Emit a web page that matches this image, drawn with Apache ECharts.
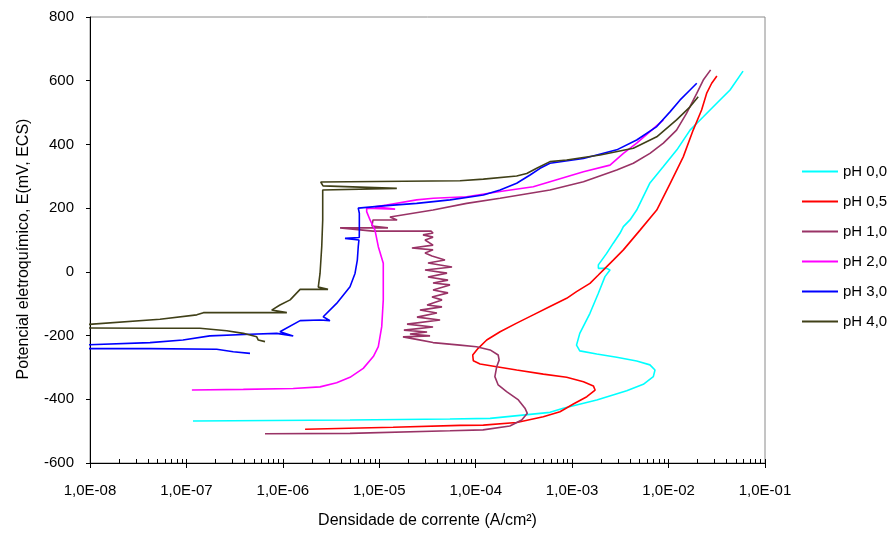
<!DOCTYPE html>
<html><head><meta charset="utf-8">
<script src="https://cdn.jsdelivr.net/npm/echarts@6/dist/echarts.min.js"></script>
<style>html,body{margin:0;padding:0;background:#fff}#c{width:895px;height:535px}</style>
</head><body><div id="c"></div>
<script>
const seriesNames = ['pH 0,0', 'pH 0,5', 'pH 1,0', 'pH 2,0', 'pH 3,0', 'pH 4,0'];
const seriesColors = ['#00FFFF', '#FF0000', '#993366', '#FF00FF', '#0000FF', '#404018'];

// pH 0,0 : current density (A/cm2) and potential (mV ECS)
const ph00_i = [1.17e-7, 4.97e-6, 5.4e-5, 1.41e-4, 5.89e-4, 8.09e-4, 1.80e-3, 3.68e-3, 5.47e-3, 6.95e-3, 7.23e-3, 6.41e-3, 4.67e-3, 2.90e-3, 1.80e-3, 1.20e-3, 1.11e-3, 1.20e-3, 1.53e-3, 1.87e-3, 2.19e-3, 2.47e-3, 2.28e-3, 1.87e-3, 1.87e-3, 2.28e-3, 2.67e-3, 3.13e-3, 3.40e-3, 3.98e-3, 4.67e-3, 6.41e-3, 8.75e-3, 1.22e-2, 1.67e-2, 2.28e-2, 3.18e-2, 4.34e-2, 5.92e-2];
const ph00_E = [-468, -465, -462, -460, -441, -428, -402, -373, -353, -329, -308, -292, -280, -268, -258, -248, -230, -193, -130, -67, -15, 6, 11, 11, 22, 58, 90, 121, 142, 163, 194, 279, 329, 383, 445, 486, 530, 571, 630];

// pH 0,5
const ph05_i = [1.70e-6, 1.39e-5, 6.87e-5, 1.20e-4, 2.66e-4, 5.02e-4, 7.48e-4, 1.03e-3, 1.42e-3, 1.73e-3, 1.66e-3, 1.31e-3, 8.77e-4, 5.02e-4, 2.66e-4, 1.65e-4, 1.11e-4, 9.44e-5, 9.31e-5, 1.06e-4, 1.30e-4, 1.79e-4, 2.66e-4, 3.95e-4, 5.89e-4, 8.77e-4, 1.11e-3, 1.53e-3, 1.87e-3, 2.19e-3, 2.67e-3, 3.40e-3, 5.06e-3, 7.54e-3, 1.04e-2, 1.42e-2, 1.80e-2, 2.20e-2, 2.48e-2, 2.80e-2, 3.17e-2];
const ph05_E = [-494, -488, -482, -481, -473, -455, -439, -415, -392, -371, -358, -345, -331, -321, -308, -298, -289, -279, -261, -240, -214, -188, -161, -135, -109, -83, -62, -36, -10, 11, 37, 69, 131, 194, 278, 361, 445, 508, 560, 592, 615];

// pH 1,0
const ph10_i = [6.53e-7, 4.97e-6, 5.41e-5, 1.19e-4, 2.26e-4, 3.00e-4, 3.43e-4, 3.24e-4, 2.77e-4, 2.09e-4, 1.71e-4, 1.58e-4, 1.65e-4, 1.75e-4, 1.71e-4, 1.41e-4, 1.02e-4, 6.87e-5, 3.61e-5, 2.44e-5,
  1.76e-5, 3.36e-5, 2.08e-5, 3.13e-5, 1.80e-5, 3.61e-5, 1.94e-5, 4.27e-5, 2.46e-5, 3.96e-5, 2.64e-5, 4.47e-5, 3.13e-5, 4.47e-5, 3.52e-5, 5.16e-5, 3.61e-5, 5.41e-5, 3.61e-5, 5.16e-5, 3.20e-5, 5.04e-5, 2.98e-5, 5.68e-5, 3.20e-5, 4.80e-5, 3.52e-5, 2.98e-5, 3.61e-5, 2.18e-5, 3.61e-5, 2.98e-5, 3.61e-5, 2.84e-5, 3.61e-5, 3.44e-5,
  8.61e-6, 3.92e-6, 1.23e-5, 8.39e-6, 8.61e-6, 1.53e-5, 1.29e-5, 3.61e-5, 8.05e-5, 1.79e-4, 5.89e-4, 1.31e-3, 2.90e-3, 4.31e-3, 6.41e-3, 8.83e-3, 1.21e-2, 1.54e-2, 1.96e-2, 2.29e-2, 2.73e-2];
const ph10_E = [-508, -507, -499, -496, -484, -465, -444, -428, -402, -376, -355, -329, -298, -277, -261, -245, -235, -230, -222, -212,
  -204, -201, -195, -189, -183, -173, -164, -151, -142, -129, -120, -110, -104, -88, -79, -66, -57, -41, -35, -26, -16, -4, 6, 15, 28, 37, 50, 59, 69, 75, 84, 100, 109, 116, 122, 128,
  128, 138, 138, 144, 163, 163, 172, 194, 215, 231, 257, 283, 320, 341, 372, 404, 445, 498, 560, 602, 634];

// pH 2,0
const ph20_i = [1.14e-7, 3.89e-7, 1.28e-6, 2.43e-6, 3.61e-6, 4.97e-6, 6.82e-6, 8.67e-6, 9.77e-6, 1.06e-5, 1.10e-5, 1.10e-5, 9.77e-6, 9.02e-6, 8.02e-6, 7.40e-6, 7.40e-6, 1.46e-5, 9.02e-6, 1.19e-5, 2.44e-5, 3.63e-5, 8.05e-5, 1.79e-4, 3.95e-4, 5.89e-4, 1.31e-3, 2.47e-3, 3.40e-3, 4.67e-3, 6.41e-3, 8.83e-3];
const ph20_E = [-371, -369, -366, -361, -348, -331, -303, -266, -235, -172, -88, 27, 79, 131, 163, 189, 200, 197, 204, 210, 226, 231, 236, 252, 267, 283, 314, 335, 372, 404, 440, 477];

// pH 3,0
const ph30_i = [4.56e-7, 3.06e-7, 2.06e-7, 4.19e-8, 7.9e-9, 7.9e-9, 4.19e-8, 9.20e-8, 1.75e-7, 4.56e-7, 8.63e-7, 1.28e-6, 9.33e-7, 1.51e-6, 2.43e-6, 3.08e-6, 2.62e-6, 3.61e-6, 4.97e-6, 5.60e-6, 5.92e-6, 6.05e-6, 6.15e-6, 4.41e-6, 6.20e-6, 6.21e-6, 6.21e-6, 6.05e-6, 6.31e-6, 1.10e-5, 2.44e-5, 5.41e-5, 1.20e-4, 1.79e-4, 2.66e-4, 3.66e-4, 4.65e-4, 5.89e-4, 1.31e-3, 2.90e-3, 4.67e-3, 7.54e-3, 1.04e-2, 1.31e-2, 1.67e-2, 1.96e-2];
const ph30_E = [-256, -251, -243, -241, -241, -230, -222, -214, -201, -196, -193, -201, -188, -153, -151, -153, -141, -99, -47, -5, 37, 79, 100, 105, 108, 131, 184, 200, 205, 207, 215, 226, 241, 257, 278, 304, 325, 341, 356, 383, 414, 456, 503, 539, 571, 592];

// pH 4,0
const ph40_i = [6.53e-7, 5.56e-7, 5.36e-7, 3.89e-7, 2.62e-7, 1.38e-7, 4.19e-8, 7.9e-9, 7.9e-9, 5.32e-8, 1.28e-7, 1.50e-7, 7.36e-7, 1.10e-6, 7.66e-7, 9.33e-7, 1.19e-6, 1.51e-6, 2.94e-6, 2.33e-6, 2.43e-6, 2.53e-6, 2.59e-6, 2.59e-6, 1.52e-5, 2.61e-6, 2.47e-6, 6.87e-5, 1.20e-4, 2.66e-4, 3.38e-4, 4.29e-4, 5.89e-4, 8.77e-4, 1.95e-3, 4.31e-3, 7.54e-3, 1.21e-2, 1.67e-2, 2.03e-2];
const ph40_E = [-219, -214, -204, -193, -185, -177, -177, -176, -167, -149, -135, -128, -128, -128, -120, -104, -88, -55, -55, -48, -5, 79, 163, 257, 262, 270, 282, 286, 291, 301, 309, 325, 346, 351, 367, 388, 424, 477, 518, 550];

const currents = [ph00_i, ph05_i, ph10_i, ph20_i, ph30_i, ph40_i];
const potentials = [ph00_E, ph05_E, ph10_E, ph20_E, ph30_E, ph40_E];

const xMin = 1e-8, xMax = 1e-1;
const yMin = -600, yMax = 800, yStep = 200;
const xTitle = 'Densidade de corrente (A/cm²)';
const yTitle = 'Potencial eletroquímico, E(mV, ECS)';

const decades = [1e-8, 1e-7, 1e-6, 1e-5, 1e-4, 1e-3, 1e-2, 1e-1];
const minorTicks = [];
decades.forEach(function (d) { for (let k = 1; k <= 9; k++) { const v = d * k; if (v <= xMax * 1.0000001) minorTicks.push(v); } });

function fmtSci(v) {
  const e = Math.round(Math.log10(v));
  return '1,0E' + (e < 0 ? '-' : '+') + String(Math.abs(e)).padStart(2, '0');
}

const FONT = 'Liberation Sans, Arial, sans-serif';
const chart = echarts.init(document.getElementById('c'), null, { renderer: 'canvas' });

const series = seriesNames.map(function (name, s) {
  return {
    name: name,
    type: 'line',
    xAxisIndex: 0,
    yAxisIndex: 0,
    symbol: 'none',
    showSymbol: false,
    clip: true,
    color: seriesColors[s],
    lineStyle: { color: seriesColors[s], width: 1.6 },
    data: currents[s].map(function (x, k) { return [x, potentials[s][k]]; })
  };
});

chart.setOption({
  animation: false,
  backgroundColor: '#fff',
  textStyle: { fontFamily: FONT },
  grid: { left: 90, right: 130, top: 17, bottom: 72, show: true, borderColor: '#8a8a8a', borderWidth: 1, backgroundColor: 'transparent' },
  legend: {
    orient: 'vertical', left: 797, top: 159,
    icon: 'rect',
    itemWidth: 36, itemHeight: 2, itemGap: 15,
    textStyle: { fontFamily: FONT, fontSize: 15, color: '#000', lineHeight: 15 },
    data: seriesNames
  },
  xAxis: [{
    type: 'log', logBase: 10, min: xMin, max: xMax,
    position: 'bottom',
    axisLine: { show: true, onZero: false, lineStyle: { color: '#000', width: 1 } },
    axisTick: { show: true, inside: false, length: 5, lineStyle: { color: '#000' } },
    axisLabel: { formatter: fmtSci, margin: 20, fontSize: 15, color: '#000', fontFamily: FONT },
    splitLine: { show: false },
    minorTick: { show: false },
    name: xTitle, nameLocation: 'middle', nameGap: 50,
    nameTextStyle: { fontSize: 16, color: '#000', fontFamily: FONT }
  }, {
    type: 'log', logBase: 10, min: xMin, max: xMax,
    position: 'bottom',
    axisLine: { show: false, onZero: false },
    axisTick: { show: true, inside: true, length: 4, customValues: minorTicks, lineStyle: { color: '#000' } },
    axisLabel: { show: false },
    splitLine: { show: false }
  }],
  yAxis: [{
    type: 'value', min: yMin, max: yMax, interval: yStep,
    axisLine: { show: true, onZero: false, lineStyle: { color: '#000', width: 1 } },
    axisTick: { show: true, inside: false, length: 4, lineStyle: { color: '#000' } },
    axisLabel: { margin: 16, fontSize: 15, color: '#000', fontFamily: FONT },
    splitLine: { show: false },
    name: yTitle, nameLocation: 'middle', nameGap: 58, nameRotate: 90,
    nameTextStyle: { fontSize: 16, color: '#000', fontFamily: FONT, padding: [0, 18, 0, 0] }
  }],
  series: series
});
</script>
</body></html>
